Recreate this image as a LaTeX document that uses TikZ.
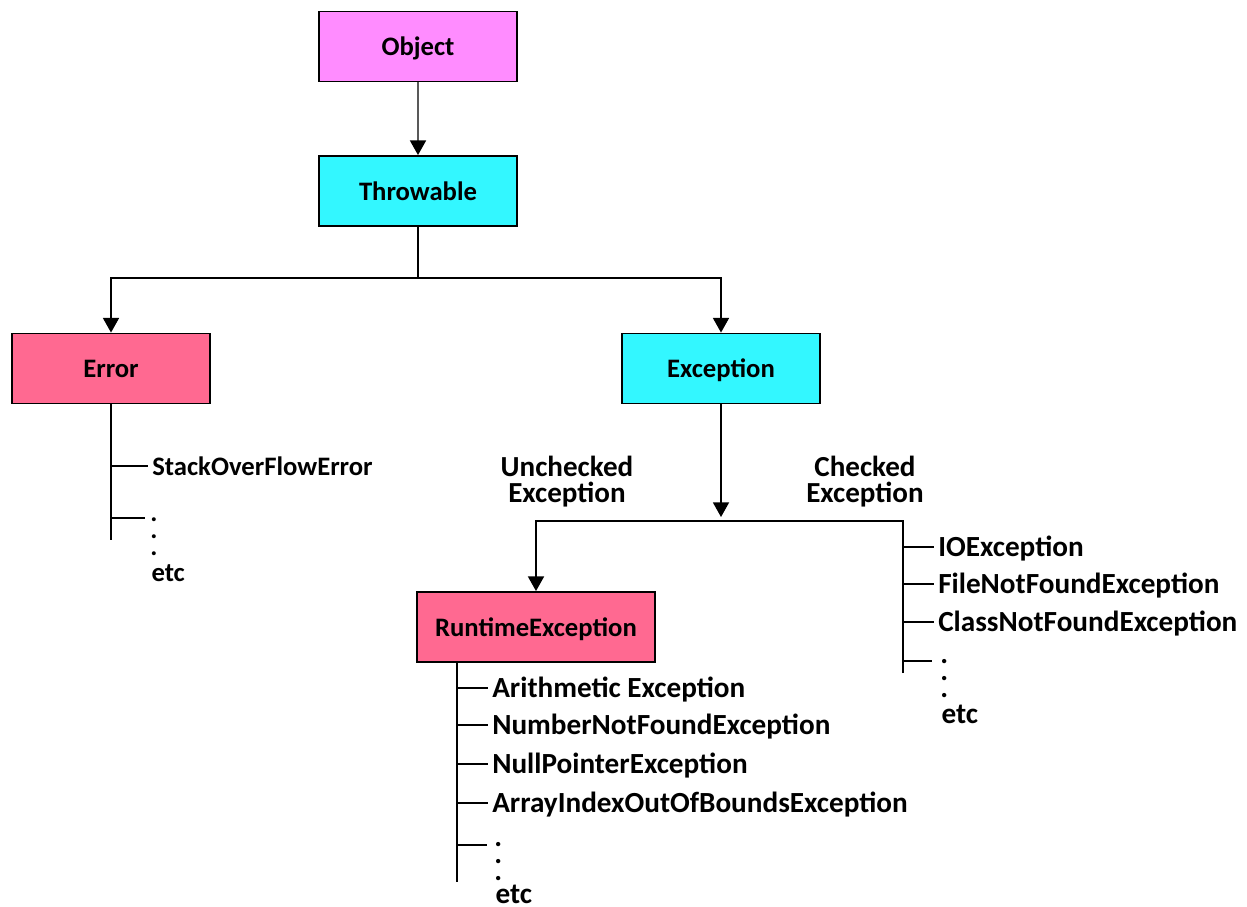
\documentclass[tikz,border=0pt]{standalone}
\usepackage{fontspec}
\setmainfont{Carlito}
\usetikzlibrary{arrows.meta}
\definecolor{objfill}{RGB}{255,140,255}
\definecolor{cyanfill}{RGB}{51,247,255}
\definecolor{pinkfill}{RGB}{255,105,145}
% a column of three dots followed by "etc"
\newcommand{\dotsetc}[1]{\vtop{\baselineskip=12.75pt\lineskiplimit=-10pt
  \hbox{.}\hbox{.}\hbox{.}\vskip #1\hbox{\kern1pt etc}}}
\begin{document}
\begin{tikzpicture}[x=0.75pt,y=-0.75pt,
  every node/.style={font=\fontsize{20}{24}\selectfont\bfseries, inner sep=0pt},
  cls/.style={draw=black, line width=1.4pt, minimum width=149pt, minimum height=52.5pt,
              text height=13.5pt, text depth=0pt},
  item/.style={anchor=west, inner xsep=3pt, text height=13.5pt, text depth=0pt},
  bigitem/.style={item, font=\fontsize{21.9}{24}\selectfont\bfseries, text height=14pt},
  dotcol/.style={anchor=base west},
  link/.style={draw=black, line width=1.3pt},
  arr/.style={link, -{Triangle[width=12pt,length=11pt,color=black]}},
  tag/.style={align=center, font=\fontsize{21.8}{19.5}\selectfont\bfseries}]
\useasboundingbox[fill=white] (0,0) rectangle (1247,907);

% class boxes
\node[cls, fill=objfill]   (obj) at (418,46.5)  {Object};
\node[cls, fill=cyanfill]  (thr) at (418,191)   {Throwable};
\node[cls, fill=pinkfill]  (err) at (111,368.5) {Error};
\node[cls, fill=cyanfill]  (exc) at (721,368.5) {Exception};
\node[cls, fill=pinkfill, minimum width=178pt] (rt) at (536,627) {RuntimeException};

% inheritance arrows
\draw[arr, draw=black!65] (obj) -- (thr);
\coordinate (tj) at (418,278);
\draw[link] (thr) -- (tj);
\draw[arr] (tj) -| (err);
\draw[arr] (tj) -| (exc);

\coordinate (etip) at (721,517);
\draw[arr] (exc) -- (etip);
\coordinate (cr) at (903,521);
\coordinate (cb) at (903,673);
\draw[arr] (cb) -- (cr) -| (rt);

\node[tag] (unchk) at (567,482) {Unchecked\\Exception};
\node[tag] (chk)   at (865,482) {Checked\\Exception};

% Error subclasses
\coordinate (eb) at (111,540);
\draw[link] (err) -- (eb);
\node[item] (so) at (148,466) {StackOverFlowError};
\draw[link] (eb |- so.west) -- (so.west);
\coordinate (et) at (145,518);
\draw[link] (eb |- et) -- (et);
\node[dotcol] (edots) at (150,521) {\dotsetc{6.75pt}};

% checked exceptions
\node[bigitem] (io)  at (934,547) {IOException};
\node[bigitem] (fnf) at (934,584) {FileNotFoundException};
\node[bigitem] (cnf) at (934,622) {ClassNotFoundException};
\draw[link] (cr |- io.west)  -- (io.west);
\draw[link] (cr |- fnf.west) -- (fnf.west);
\draw[link] (cr |- cnf.west) -- (cnf.west);
\coordinate (ct) at (932,661);
\draw[link] (cr |- ct) -- (ct);
\node[dotcol, font=\fontsize{21.9}{24}\selectfont\bfseries] (cdots) at (940,663) {\dotsetc{7.25pt}};

% runtime exceptions
\coordinate (rb) at (457,882);
\draw[link] (rb |- rt.south) -- (rb);
\node[bigitem] (ae)  at (488,688) {Arithmetic Exception};
\node[bigitem] (nnf) at (488,725) {NumberNotFoundException};
\node[bigitem] (np)  at (488,764) {NullPointerException};
\node[bigitem] (ai)  at (488,803) {ArrayIndexOutOfBoundsException};
\draw[link] (rb |- ae.west)  -- (ae.west);
\draw[link] (rb |- nnf.west) -- (nnf.west);
\draw[link] (rb |- np.west)  -- (np.west);
\draw[link] (rb |- ai.west)  -- (ai.west);
\coordinate (rtk) at (487,845);
\draw[link] (rb |- rtk) -- (rtk);
\node[dotcol, font=\fontsize{21.9}{24}\selectfont\bfseries] (rdots) at (494,846) {\dotsetc{4.5pt}};
\end{tikzpicture}
\end{document}
